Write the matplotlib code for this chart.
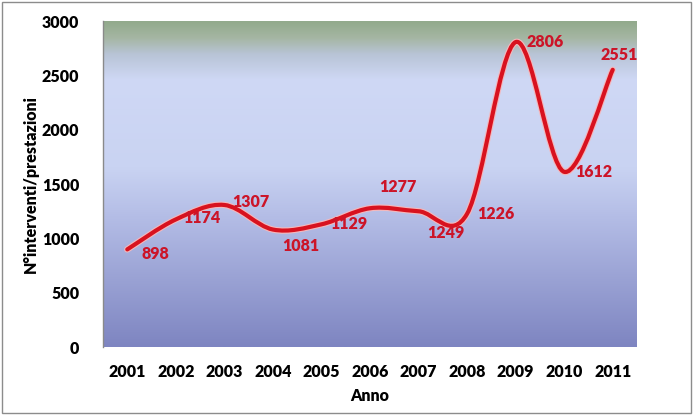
import numpy as np
import matplotlib
matplotlib.use("Agg")
import matplotlib.pyplot as plt
from matplotlib.path import Path
from matplotlib.patches import PathPatch, Rectangle
from matplotlib.colors import LinearSegmentedColormap
import matplotlib.patheffects as pe

plt.rcParams['font.family'] = ['Lato', 'DejaVu Sans']

years = ['2001', '2002', '2003', '2004', '2005', '2006', '2007', '2008', '2009', '2010', '2011']
values = [898, 1174, 1307, 1081, 1129, 1277, 1249, 1226, 2806, 1612, 2551]
y_ticks = [0, 500, 1000, 1500, 2000, 2500, 3000]
x_label = 'Anno'
y_label = 'N°interventi/prestazioni'

# label offsets in points (style)
label_offsets = [(20, -3), (19, 1), (19, 2), (20, -12), (20, 0), (20, 15), (20, -16), (21, 0), (21, 0), (21, 0), (5, 11)]

W, H, DPI = 693, 415, 100
fig = plt.figure(figsize=(W / DPI, H / DPI), dpi=DPI)
fig.patch.set_facecolor('white')
fig.patches.append(Rectangle((1.5 / W, 2.5 / H), (W - 4) / W, (H - 4.5) / H, transform=fig.transFigure,
                             fill=False, edgecolor='#8c8c8c', linewidth=1.0))

left, right, top, bottom = 103, 637, 21, 347
ax = fig.add_axes([left / W, 1 - bottom / H, (right - left) / W, (bottom - top) / H])
ax.set_xlim(-0.5, len(years) - 0.5)
ax.set_ylim(0, 3000)

# gradient background
cmap = LinearSegmentedColormap.from_list('bg', [
    (0.0, '#7e85c1'), (0.40, '#b4bde6'), (0.55, '#c9d3f2'), (0.82, '#cfd8f5'),
    (0.90, '#b8c4d6'), (0.95, '#a5b6a3'), (1.0, '#92aa8c')])
grad = np.linspace(0, 1, 256).reshape(-1, 1)
ax.imshow(grad, extent=(-0.5, len(years) - 0.5, 0, 3000), origin='lower', aspect='auto',
          cmap=cmap, zorder=0, interpolation='bilinear')

# smoothed line (Excel-like Bezier through the points)
xs = np.arange(len(values), dtype=float)
ys = np.array(values, dtype=float)
verts = [(xs[0], ys[0])]
codes = [Path.MOVETO]
n = len(xs)
for i in range(n - 1):
    p0 = (xs[max(i - 1, 0)], ys[max(i - 1, 0)])
    p1 = (xs[i], ys[i])
    p2 = (xs[i + 1], ys[i + 1])
    p3 = (xs[min(i + 2, n - 1)], ys[min(i + 2, n - 1)])
    c1 = (p1[0] + (p2[0] - p0[0]) / 6, p1[1] + (p2[1] - p0[1]) / 6)
    c2 = (p2[0] - (p3[0] - p1[0]) / 6, p2[1] - (p3[1] - p1[1]) / 6)
    verts += [c1, c2, p2]
    codes += [Path.CURVE4] * 3
patch = PathPatch(Path(verts, codes), facecolor='none', edgecolor='#d8121f', linewidth=3.0,
                  capstyle='round', joinstyle='round', zorder=3,
                  path_effects=[pe.Stroke(linewidth=4.6, foreground='#f4b8bc'), pe.Normal()])
ax.add_patch(patch)

for i, (v, off) in enumerate(zip(values, label_offsets)):
    ax.annotate(str(v), (i, v), xytext=off, textcoords='offset points', ha='center', va='center',
                fontsize=11.5, fontweight='heavy', color='#cc1428', zorder=4)

ax.set_xticks(range(len(years)))
ax.set_xticklabels(years)
ax.set_yticks(y_ticks)
ax.set_yticklabels([str(t) for t in y_ticks])
ax.tick_params(axis='both', length=0, labelsize=11.5, colors='black')
ax.tick_params(axis='x', pad=12)
ax.tick_params(axis='y', pad=17)
for lab in ax.get_xticklabels() + ax.get_yticklabels():
    lab.set_fontweight('heavy')
for s in ['top', 'right', 'bottom']:
    ax.spines[s].set_visible(False)
ax.spines['left'].set_color('#8a8a8a')
ax.spines['left'].set_linewidth(1.0)

ax.set_xlabel(x_label, fontsize=11.5, fontweight='heavy', va='center')
ax.xaxis.set_label_coords(0.5, -(396 - 347) / (bottom - top))
ax.set_ylabel(y_label, fontsize=11.5, fontweight='heavy', va='center')
ax.yaxis.set_label_coords(-(103 - 31) / (right - left), 0.5)

fig.savefig('out.png', dpi=DPI)
